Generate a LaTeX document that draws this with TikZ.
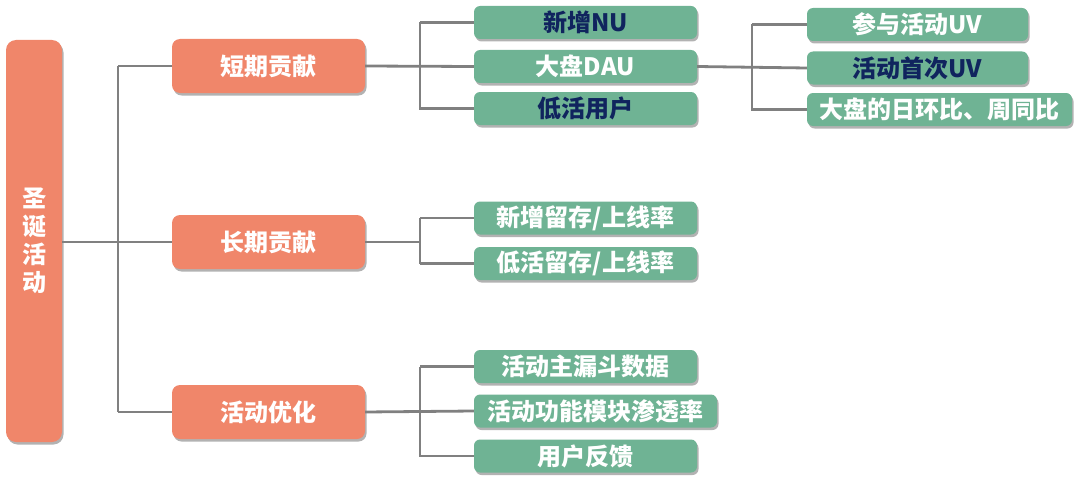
\documentclass[tikz,border=0pt]{standalone}
\usepackage{fontspec}
\setmainfont{Noto Sans CJK SC}
\usetikzlibrary{shadows}
\definecolor{orangeC}{RGB}{240,134,106}
\definecolor{greenC}{RGB}{111,179,148}
\definecolor{navyC}{RGB}{16,36,94}
\definecolor{lineC}{RGB}{128,128,128}
\tikzset{
  shad/.style={drop shadow={shadow xshift=1.5pt, shadow yshift=-2.5pt, fill=black, opacity=0.3}},
  txt/.style={font=\bfseries\fontsize{24}{28}\selectfont, inner sep=0pt, text=white},
  rootbox/.style={txt, shad, fill=orangeC, rounded corners=10pt, minimum width=56pt, minimum height=402pt, align=center},
  lonebox/.style={txt, shad, fill=orangeC, rounded corners=8pt, minimum width=193pt, minimum height=54pt},
  ltwobox/.style={txt, shad, fill=greenC, rounded corners=6pt, minimum width=223pt, minimum height=33pt},
  dark/.style={text=navyC},
  link/.style={draw=lineC, line width=2.8pt}
}
\begin{document}
\begin{tikzpicture}[x=1pt,y=-1pt]
\useasboundingbox (0,0) rectangle (1079,495);
% root
\node[rootbox] (root) at (34,241) {圣\\诞\\活\\动};
% level 1
\node[lonebox] (s) at (268.5,66) {短期贡献};
\node[lonebox] (l) at (268.5,242) {长期贡献};
\node[lonebox] (o) at (268.5,412) {活动优化};
% level 2
\node[ltwobox,dark] (s1) at (585.5,22.5) {新增NU};
\node[ltwobox] (s2) at (585.5,66.5) {大盘DAU};
\node[ltwobox,dark] (s3) at (585.5,108.5) {低活用户};
\node[ltwobox] (l1) at (585.5,218) {新增留存/上线率};
\node[ltwobox] (l2) at (585.5,263.5) {低活留存/上线率};
\node[ltwobox] (o1) at (585.5,366.5) {活动主漏斗数据};
\node[ltwobox, minimum width=243pt] (o2) at (595.5,411) {活动功能模块渗透率};
\node[ltwobox] (o3) at (585.5,456) {用户反馈};
% level 3
\node[ltwobox, minimum width=221pt] (d1) at (917.5,24.5) {参与活动UV};
\node[ltwobox, minimum width=221pt, dark] (d2) at (917.5,68) {活动首次UV};
\node[ltwobox, minimum width=265pt] (d3) at (939.5,109.5) {大盘的日环比、周同比};
% bus coordinates
\coordinate (b0) at (118,0);
\coordinate (b1) at (420,0);
\coordinate (b2) at (752,0);
% connectors
\draw[link] (root.east |- l.west) -- (l.west);
\draw[link] (b0 |- s.west) -- (b0 |- o.west);
\draw[link] (b0 |- s.west) -- (s.west);
\draw[link] (b0 |- o.west) -- (o.west);
\draw[link] (s.east) -- (s2.west);
\draw[link] (b1 |- s1.west) |- (s3.west);
\draw[link] (b1 |- s1.west) -- (s1.west);
\draw[link] (l.east) -- (b1 |- l.east);
\draw[link] (b1 |- l1.west) -- (b1 |- l2.west);
\draw[link] (b1 |- l1.west) -- (l1.west);
\draw[link] (b1 |- l2.west) -- (l2.west);
\draw[link] (o.east) -- (o2.west);
\draw[link] (b1 |- o1.west) |- (o3.west);
\draw[link] (b1 |- o1.west) -- (o1.west);
\draw[link] (s2.east) -- (d2.west);
\draw[link] (b2 |- d1.west) |- (d3.west);
\draw[link] (b2 |- d1.west) -- (d1.west);
\end{tikzpicture}
\end{document}
